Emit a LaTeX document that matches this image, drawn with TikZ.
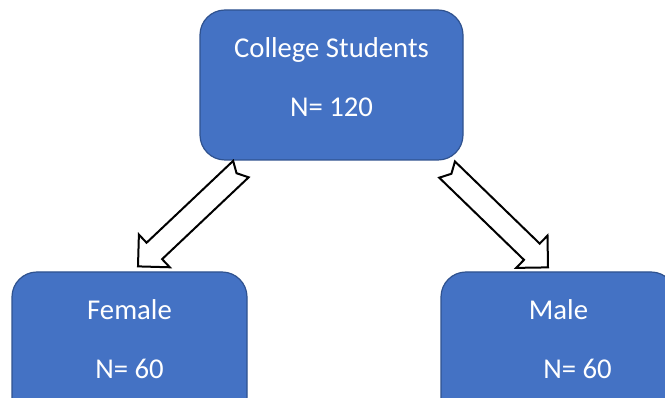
\documentclass[tikz,border=0pt]{standalone}
\usepackage{fontspec}
\setmainfont{Carlito}
\usetikzlibrary{calc}
\definecolor{boxblue}{HTML}{4472C4}
\definecolor{boxedge}{HTML}{2F528F}

% block arrow with a notched tail: #1 name, #2 tail, #3 tip
\newcommand{\notchedarrow}[3]{%
  \coordinate (#1j) at ($(#3)!22.5pt!(#2)$);
  \draw[blockarrow] ($(#2)!11.3pt!90:(#3)$) -- ($(#1j)!11.3pt!-90:(#2)$)
    -- ($(#1j)!22.5pt!-90:(#2)$) -- (#3) -- ($(#1j)!22.5pt!90:(#2)$)
    -- ($(#1j)!11.3pt!90:(#2)$) -- ($(#2)!11.3pt!-90:(#3)$)
    -- ($(#2)!6pt!(#3)$) -- cycle;
}

\begin{document}
\begin{tikzpicture}[x=1pt, y=1pt,
  group/.style = {draw=boxedge, line width=1.2pt, fill=boxblue, rounded corners=25pt,
    minimum width=235pt, minimum height=150pt, text=white, align=center,
    font=\fontsize{28.7}{59}\selectfont, text depth=15pt},
  blockarrow/.style = {draw=black, line width=2pt, fill=white}]
  \useasboundingbox (0,0) rectangle (665,398);
  \clip (0,0) rectangle (665,398);

  \node[group, minimum width=263pt] (students) at (331.5,313) {College Students\\N= 120};
  \node[group] (female) at (129.5,51) {Female\\N= 60};
  \node[group] (male) at (558.5,51) {Male\\\hspace*{38pt}N= 60};

  \coordinate (ftail) at ($(students.south west)+(41.5,-8.5)$);
  \coordinate (ftip) at ($(female.north)+(8.5,5)$);
  \coordinate (mtail) at ($(students.south east)+(-16.5,-9)$);
  \coordinate (mtip) at ($(male.north)+(-10.5,4)$);

  \notchedarrow{f}{ftail}{ftip}
  \notchedarrow{m}{mtail}{mtip}
\end{tikzpicture}
\end{document}
